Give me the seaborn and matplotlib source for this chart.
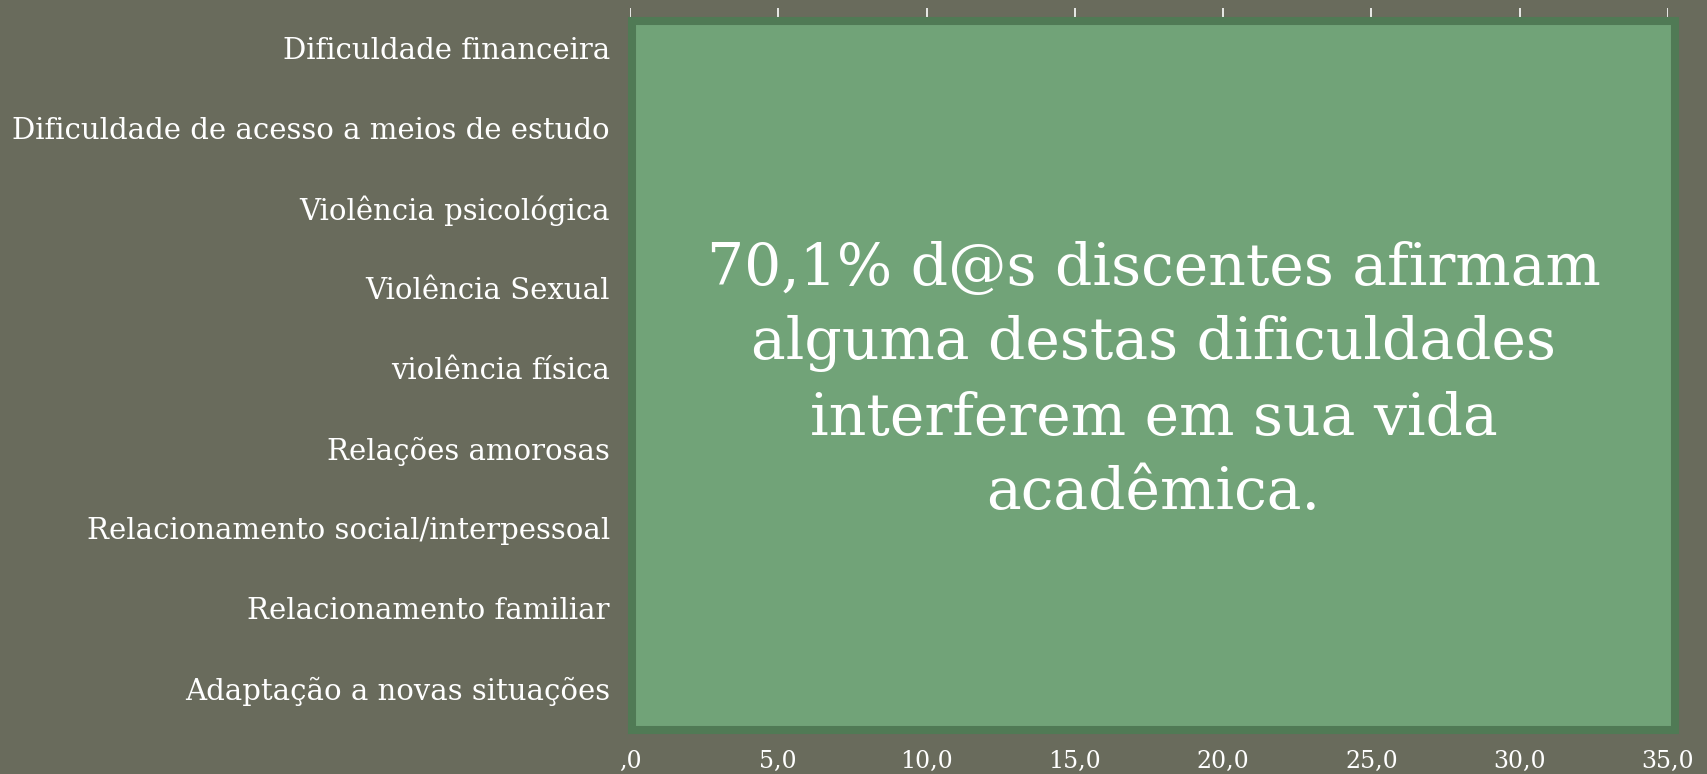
import matplotlib
matplotlib.use("Agg")
import matplotlib.pyplot as plt
import seaborn as sns
import pandas as pd
from matplotlib.patches import Rectangle

categories = [
    "Dificuldade financeira",
    "Dificuldade de acesso a meios de estudo",
    "Violência psicológica",
    "Violência Sexual",
    "violência física",
    "Relações amorosas",
    "Relacionamento social/interpessoal",
    "Relacionamento familiar",
    "Adaptação a novas situações",
]
# Bars are hidden beneath the overlay box in the reference; values estimated
values = [30.0, 15.0, 10.0, 2.0, 1.5, 12.0, 15.0, 18.0, 22.0]
xticks = [0, 5, 10, 15, 20, 25, 30, 35]
xtick_labels = [",0", "5,0", "10,0", "15,0", "20,0", "25,0", "30,0", "35,0"]
overlay_text = "70,1% d@s discentes afirmam\nalguma destas dificuldades\ninterferem em sua vida\nacadêmica."

BG = "#696B5C"
FILL = "#71A378"
EDGE = "#507A55"

sns.set_theme(style="white")
plt.rcParams["font.family"] = ["DejaVu Serif", "DejaVu Sans"]

W, H = 1707, 774
fig = plt.figure(figsize=(W / 100, H / 100), dpi=100, facecolor=BG)
ax = fig.add_axes([630 / W, 1 - 728 / H, (1668 - 630) / W, (728 - 8) / H])
ax.set_facecolor(BG)

df = pd.DataFrame({"cat": categories, "val": values})
sns.barplot(data=df, x="val", y="cat", orient="h", color=FILL, ax=ax,
            width=0.6, linewidth=0, zorder=1)

ax.set_xlim(0, 35)
ax.set_xticks(xticks)
ax.set_xticklabels(xtick_labels, color="white", fontsize=17)
ax.set_xlabel("")
ax.set_ylabel("")
ax.tick_params(axis="y", length=0, pad=14.5, labelsize=21, labelcolor="white")
ax.tick_params(axis="x", length=0, pad=16)
for s in ax.spines.values():
    s.set_visible(False)
ax.grid(axis="x", color="white", linewidth=1.2, zorder=0)
ax.set_axisbelow(True)

# Overlay box
x0, x1 = 632, 1675
y0, y1 = 21, 730
rect = Rectangle((x0 / W, 1 - y1 / H), (x1 - x0) / W, (y1 - y0) / H,
                 transform=fig.transFigure, facecolor=FILL, edgecolor=EDGE,
                 linewidth=5.8, zorder=10)
fig.patches.append(rect)
fig.text((x0 + x1) / 2 / W, 1 - 381 / H, overlay_text, ha="center", va="center",
         color="white", fontsize=42, linespacing=1.42, zorder=11)

fig.savefig("out.png", dpi=100, facecolor=BG)
